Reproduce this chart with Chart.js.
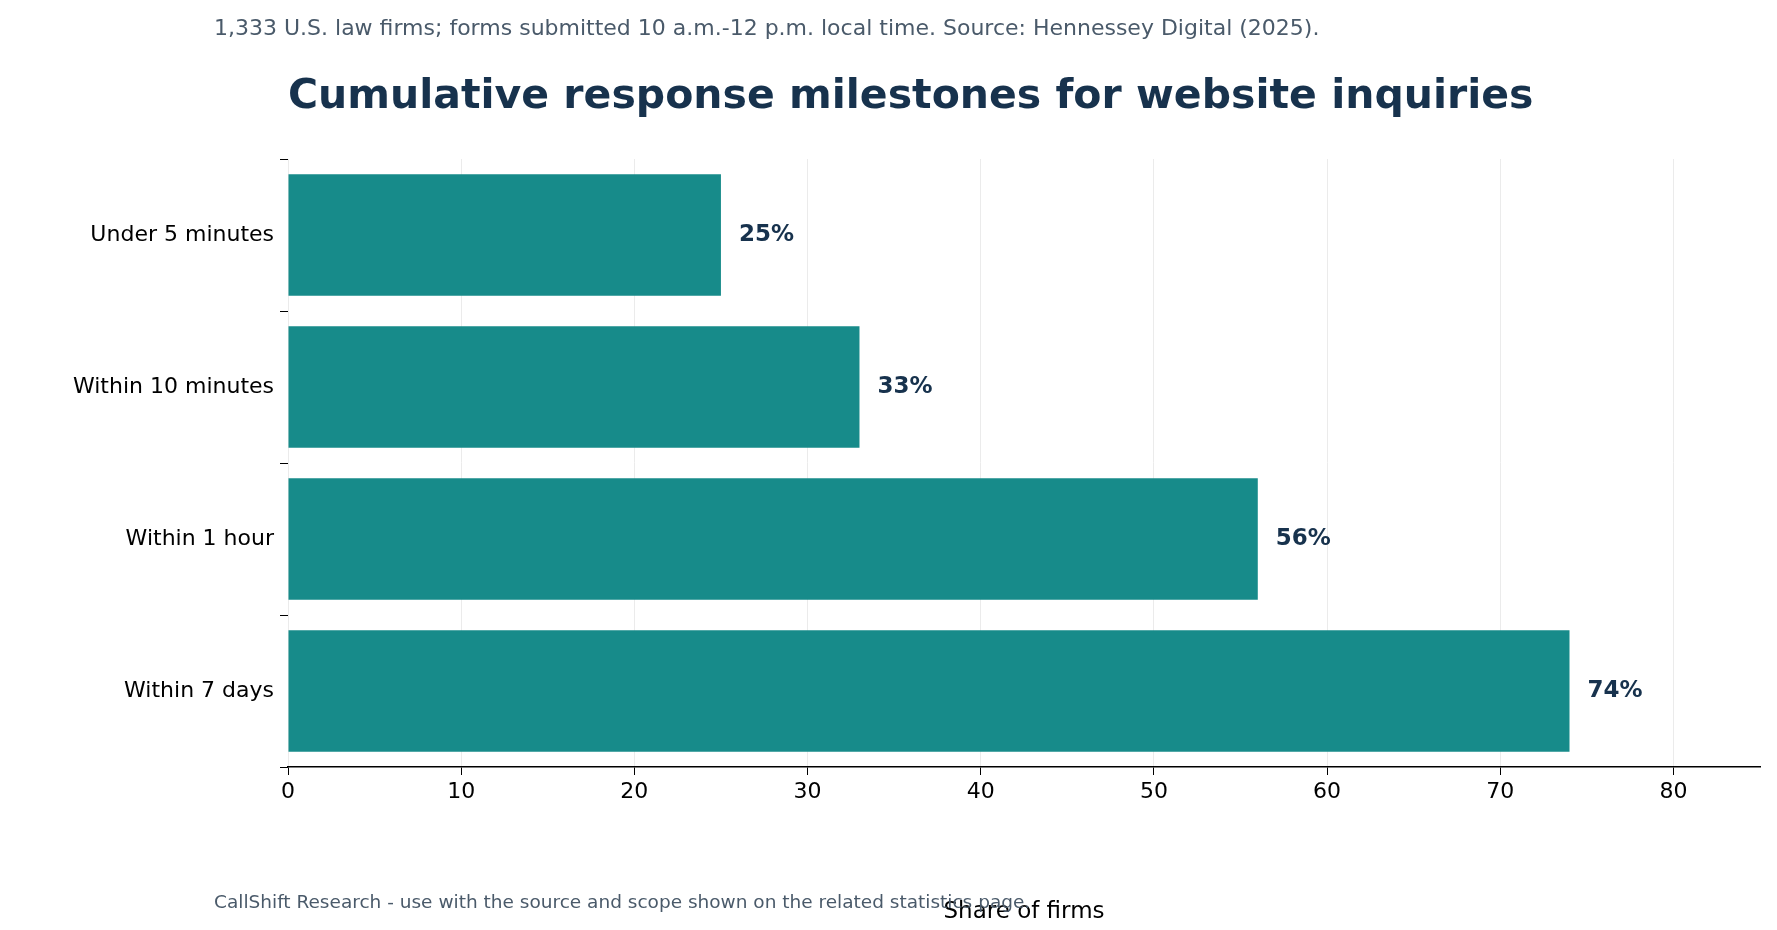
<!DOCTYPE html>
<html><head><meta charset="utf-8">
<script src="https://cdn.jsdelivr.net/npm/chart.js@4"></script>
<style>html,body{margin:0;background:#fff}canvas{display:block}</style>
</head><body>
<canvas id="c" width="1777" height="930"></canvas>
<script>
const categories = ["Under 5 minutes","Within 10 minutes","Within 1 hour","Within 7 days"];
const values = [25,33,56,74];
const xTicks = [0,10,20,30,40,50,60,70,80];
const FONT = "'DejaVu Sans', sans-serif";

const textPlugin = {
  id:'texts',
  afterDraw(chart){
    const c = chart.ctx; c.save();
    c.textBaseline='middle'; c.textAlign='left';
    c.fillStyle='#4a5a6a'; c.font="22px "+FONT;
    c.fillText("1,333 U.S. law firms; forms submitted 10 a.m.-12 p.m. local time. Source: Hennessey Digital (2025).",214,29);
    c.fillStyle='#17324d'; c.font="bold 41px "+FONT;
    c.fillText("Cumulative response milestones for website inquiries",288,97);
    c.fillStyle='#4a5a6a'; c.font="18.5px "+FONT;
    c.fillText("CallShift Research - use with the source and scope shown on the related statistics page.",214,903);
    // data labels
    const meta = chart.getDatasetMeta(0);
    c.fillStyle='#17324d'; c.font="bold 23px "+FONT;
    meta.data.forEach((b,i)=>{ c.fillText(values[i]+"%", b.x+18, b.y); });
    c.restore();
  }
};

new Chart(document.getElementById('c'),{
  type:'bar',
  data:{labels:categories,datasets:[{data:values,backgroundColor:'#178b8a',borderWidth:0,categoryPercentage:0.8,barPercentage:1}]},
  options:{
    indexAxis:'y',responsive:false,animation:false,
    layout:{padding:{top:159,right:17,left:0,bottom:0}},
    plugins:{legend:{display:false},tooltip:{enabled:false}},
    scales:{
      x:{min:0,max:85,
        afterBuildTicks(s){s.ticks=xTicks.map(v=>({value:v}));},
        afterFit(s){s.height=163;},
        grid:{color:'#ebebeb',tickColor:'#000',tickLength:8,lineWidth:1},
        border:{color:'#000',width:1.5},
        ticks:{color:'#000',font:{family:FONT,size:22},padding:4},
        title:{display:true,text:'Share of firms',color:'#000',font:{family:FONT,size:23},padding:{top:8}}
      },
      y:{
        afterFit(s){s.width=288;},
        grid:{drawOnChartArea:false,drawTicks:true,tickColor:'#000',tickLength:8},
        border:{display:false},
        ticks:{color:'#000',font:{family:FONT,size:22},padding:6}
      }
    }
  },
  plugins:[textPlugin]
});
</script>
</body></html>
